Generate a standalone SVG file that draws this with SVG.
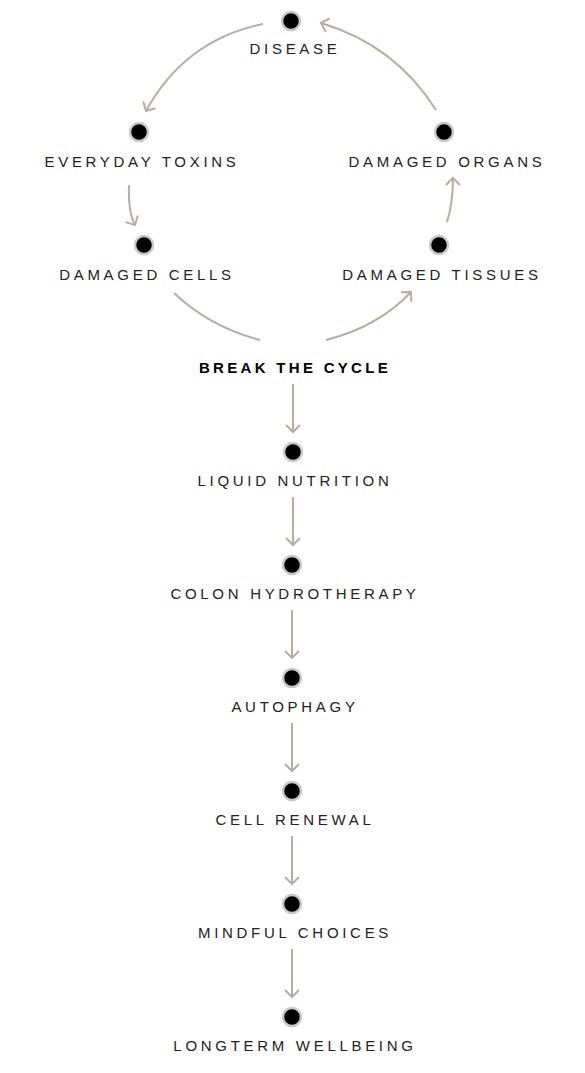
<svg xmlns="http://www.w3.org/2000/svg" width="585" height="1073" viewBox="0 0 585 1073">
<style>
.n{fill:#000;stroke:#c8c8c8;stroke-width:2.5}
.t{font-family:"Liberation Sans","Noto Sans",sans-serif;font-size:15px;letter-spacing:3.7px;fill:#222;text-anchor:middle}
.b{font-weight:bold;fill:#000;letter-spacing:3.3px}
.c{fill:none;stroke:#b9ad9f;stroke-width:2}
</style>
<defs>
<marker id="ah" viewBox="-10 -10 20 20" markerWidth="20" markerHeight="20" markerUnits="userSpaceOnUse" orient="auto" refX="0" refY="0">
<path d="M-7,-7 L0,0 L-7,7" fill="none" stroke="#b9ad9f" stroke-width="2"/>
</marker>
</defs>
<rect width="585" height="1073" fill="#fff"/>
<g id="connectors">
<path class="c" d="M263,24 Q185,40 146,111" marker-end="url(#ah)"/>
<path class="c" d="M436,110 Q395,45 321,23" marker-end="url(#ah)"/>
<path class="c" d="M129,185 Q128,212 135,225" marker-end="url(#ah)"/>
<path class="c" d="M447,222 Q453,203 453,178" marker-end="url(#ah)"/>
<path class="c" d="M174,293 Q210,327 260,340"/>
<path class="c" d="M326,340 Q378,327 411,292" marker-end="url(#ah)"/>
<path class="c" d="M293,384 V432" marker-end="url(#ah)"/>
<path class="c" d="M293,497 V545" marker-end="url(#ah)"/>
<path class="c" d="M292,610 V658" marker-end="url(#ah)"/>
<path class="c" d="M292,723 V771" marker-end="url(#ah)"/>
<path class="c" d="M292,836 V884" marker-end="url(#ah)"/>
<path class="c" d="M292,949 V997" marker-end="url(#ah)"/>
</g>
<g id="disease"><circle class="n" cx="291" cy="21" r="9"/><text class="t" x="295" y="54">DISEASE</text></g>
<g id="toxins"><circle class="n" cx="139" cy="132" r="9"/><text class="t" x="142" y="167">EVERYDAY TOXINS</text></g>
<g id="organs"><circle class="n" cx="444" cy="132" r="9"/><text class="t" x="447" y="167">DAMAGED ORGANS</text></g>
<g id="cells"><circle class="n" cx="144" cy="245" r="9"/><text class="t" x="147" y="280">DAMAGED CELLS</text></g>
<g id="tissues"><circle class="n" cx="439" cy="245" r="9"/><text class="t" x="442" y="280">DAMAGED TISSUES</text></g>
<g id="break"><text class="t b" x="295" y="373">BREAK THE CYCLE</text></g>
<g id="liquid"><circle class="n" cx="293" cy="452" r="9"/><text class="t" x="295" y="486">LIQUID NUTRITION</text></g>
<g id="colon"><circle class="n" cx="292" cy="565" r="9"/><text class="t" x="295" y="599">COLON HYDROTHERAPY</text></g>
<g id="autophagy"><circle class="n" cx="292" cy="678" r="9"/><text class="t" x="295" y="712">AUTOPHAGY</text></g>
<g id="renewal"><circle class="n" cx="292" cy="791" r="9"/><text class="t" x="295" y="825">CELL RENEWAL</text></g>
<g id="mindful"><circle class="n" cx="292" cy="904" r="9"/><text class="t" x="295" y="938">MINDFUL CHOICES</text></g>
<g id="wellbeing"><circle class="n" cx="292" cy="1017" r="9"/><text class="t" x="295" y="1051">LONGTERM WELLBEING</text></g>
</svg>
